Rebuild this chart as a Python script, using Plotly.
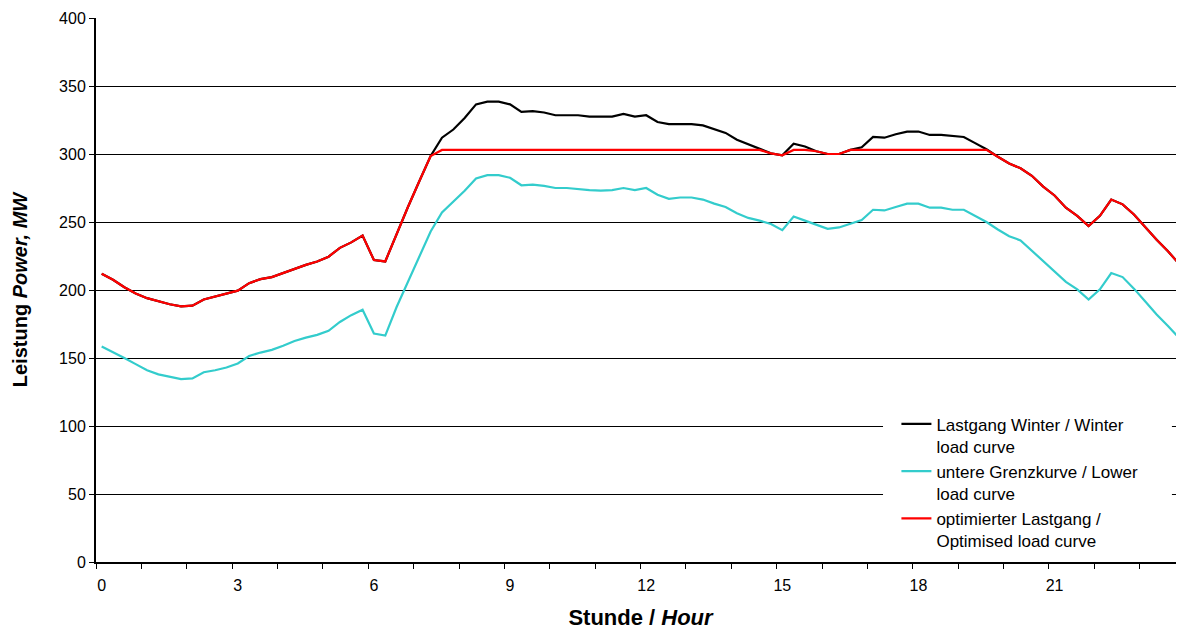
import plotly.graph_objects as go

# 15-minute intervals over one day (96 categories)
hours = [i * 0.25 for i in range(96)]
tick_hours = [0, 3, 6, 9, 12, 15, 18, 21]
tick_labels = ["0", "3", "6", "9", "12", "15", "18", "21"]

winter = [
    212, 207.5, 202, 197.5, 194, 191.5, 189.5, 188, 188.5, 193,
    195, 197, 199.5, 205, 208, 209.5, 212.5, 216, 218.5, 221,
    224.5, 231, 235, 240, 222, 221, 241.5, 261, 280, 298.5,
    312, 318, 326.5, 336.5, 338.5, 338.5, 336.5, 331, 331.5, 330.5,
    328.5, 328.5, 328.5, 327.5, 327.5, 327.5, 329.5, 327.5, 328.5, 323.5,
    322, 322, 322, 321, 318, 315.5, 310.5, 307, 304, 300.5,
    299, 307.5, 305.5, 302, 300, 300, 303, 305, 312.5, 312,
    314.5, 316.5, 316.5, 314, 314, 313, 312.5, 308, 303.5, 298,
    293, 289.5, 284, 276, 269.5, 260.5, 254.5, 247, 254.5, 266.5,
    263, 255.5, 246, 237, 228.5, 219,
]

lower = [
    158.5, 154.5, 150, 145.5, 141, 138, 136.5, 134.5, 135, 139.5,
    141, 143, 146, 151.5, 154, 156, 159, 162.5, 165, 167,
    170, 176.5, 181.5, 185.5, 168, 166.5, 187.5, 206, 224.5, 243,
    257, 265, 273, 282, 284.5, 284.5, 282.5, 277, 277.5, 276.5,
    275, 275, 274, 273.5, 273, 273.5, 275, 273.5, 275, 270,
    267, 268, 268, 266.5, 263.5, 261, 256.5, 253, 251, 248.5,
    244, 254, 251, 248, 245, 246, 248.5, 251.5, 259, 258.5,
    261, 263.5, 263.5, 260.5, 260.5, 259, 259, 254.5, 250, 244.5,
    239.5, 236.5, 229, 221, 214, 206, 200.5, 193, 200.5, 212.5,
    209.5, 201, 191.5, 182, 173.5, 164.5,
]

optimised = [
    212, 207.5, 202, 197.5, 194, 191.5, 189.5, 188, 188.5, 193,
    195, 197, 199.5, 205, 208, 209.5, 212.5, 216, 218.5, 221,
    224.5, 231, 235, 240, 222, 221, 241.5, 261, 280, 298.5,
    303, 303, 303, 303, 303, 303, 303, 303, 303, 303,
    303, 303, 303, 303, 303, 303, 303, 303, 303, 303,
    303, 303, 303, 303, 303, 303, 303, 303, 303, 300.5,
    299, 303, 303, 302, 300, 300, 303, 303, 303, 303,
    303, 303, 303, 303, 303, 303, 303, 303, 303, 298,
    293, 289.5, 284, 276, 269.5, 260.5, 254.5, 247, 254.5, 266.5,
    263, 255.5, 246, 237, 228.5, 219,
]

names = [
    "Lastgang Winter / Winter<br>load curve",
    "untere Grenzkurve / Lower<br>load curve",
    "optimierter Lastgang /<br>Optimised load curve",
]
colors = ["#000000", "#33CCCC", "#FF0000"]

FONT = "Liberation Sans, Arial, sans-serif"

fig = go.Figure()
for vals, name, col in zip([winter, lower, optimised], names, colors):
    fig.add_trace(go.Scatter(x=hours, y=vals, mode="lines", name=name,
                             line=dict(color=col, width=2.2)))

# white legend panel (covers grid lines behind the legend)
fig.add_shape(type="rect", xref="paper", yref="paper",
              x0=0.7227, x1=0.988, y0=0.022, y1=0.2886,
              fillcolor="white", line=dict(width=0), layer="above")

fig.update_layout(
    width=1184, height=628,
    margin=dict(l=88, r=7, t=10, b=74, pad=0),
    plot_bgcolor="white", paper_bgcolor="white",
    font=dict(family=FONT, color="black", size=16),
    showlegend=True,
    legend=dict(x=0.735, y=0.286, xanchor="left", yanchor="top",
                bgcolor="rgba(0,0,0,0)", borderwidth=0, valign="top",
                font=dict(family=FONT, size=17, color="black")),
    xaxis=dict(
        range=[-0.125, 23.875], automargin=False,
        tickmode="array", tickvals=tick_hours, ticktext=tick_labels,
        ticks="outside", ticklen=8, tickcolor="rgba(0,0,0,0)",
        showgrid=False, zeroline=False,
        showline=True, linecolor="black", linewidth=2,
        tickfont=dict(size=16),
        minor=dict(tickmode="array", tickvals=[-0.125 + k for k in range(25)],
                   ticks="outside", ticklen=5, tickcolor="black", tickwidth=1,
                   showgrid=False),
        title=dict(text="<b>Stunde / <i>Hour</i></b>", font=dict(size=22), standoff=16),
    ),
    yaxis=dict(
        range=[0, 400], dtick=50, tick0=0, automargin=False,
        showgrid=True, gridcolor="black", gridwidth=1,
        zeroline=False, showline=True, linecolor="black", linewidth=2,
        ticks="outside", ticklen=5, tickcolor="black",
        tickfont=dict(size=16),
        title=dict(text="<b>Leistung <i>Power, MW</i></b>", font=dict(size=20), standoff=26),
    ),
)

fig.write_html("out.html")
